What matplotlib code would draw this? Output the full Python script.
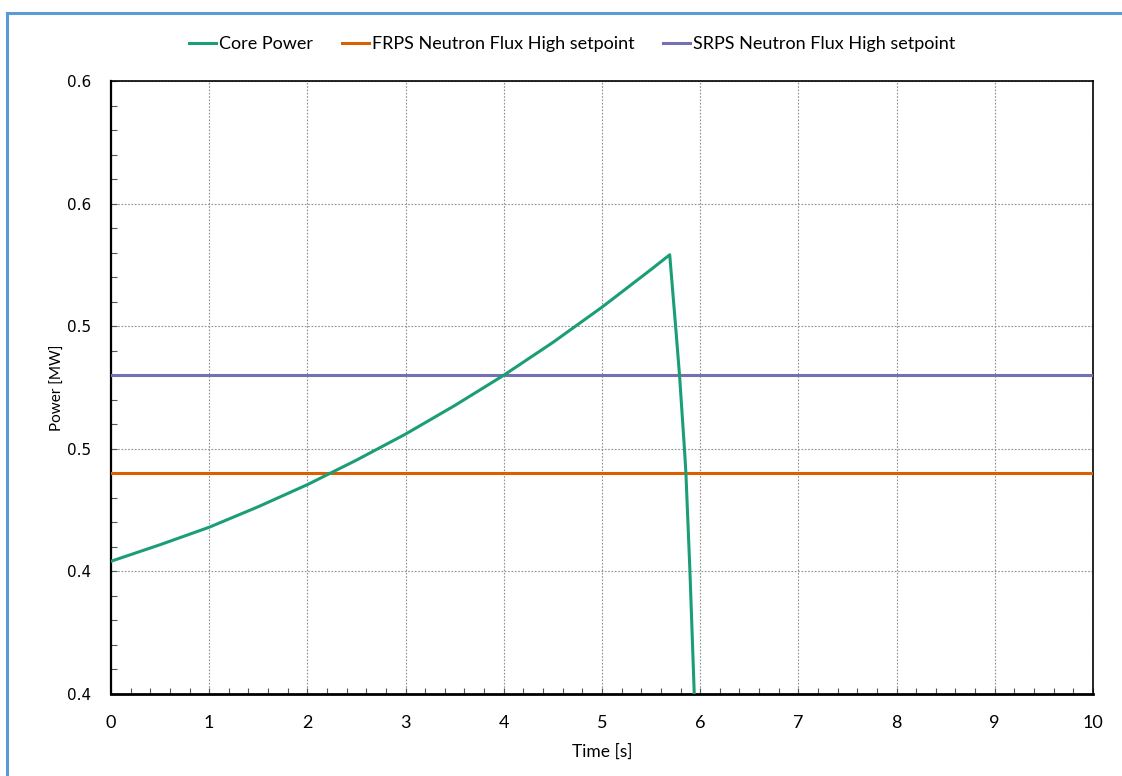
import numpy as np
import matplotlib.pyplot as plt
from matplotlib.ticker import MultipleLocator, FormatStrFormatter
from matplotlib.lines import Line2D

# Core power transient
time_s = [0.0, 0.5, 1.0, 1.5, 2.0, 2.5, 3.0, 3.5, 4.0, 4.5, 5.0, 5.5, 5.69,
          5.75, 5.79, 5.84, 5.855, 5.896, 5.94]
core_power = [0.4433, 0.4487, 0.4544, 0.4611, 0.4683, 0.4763, 0.4848, 0.4941,
              0.5040, 0.5147, 0.5262, 0.5385, 0.5433,
              0.5200, 0.5040, 0.4800, 0.4720, 0.4400, 0.4000]

# trip setpoints
frps_setpoint = 0.472
srps_setpoint = 0.504
setpoint_time = [0, 10]

plt.rcParams['font.family'] = ['Lato', 'DejaVu Sans']

fig = plt.figure(figsize=(11.22, 7.76), dpi=100)
ax = fig.add_axes([0.0989, 0.1057, 0.8752, 0.7899])

ax.plot(time_s, core_power, color='#1b9e77', lw=2.2, label='Core Power', zorder=4)
ax.plot(setpoint_time, [frps_setpoint] * 2, color='#d95f02', lw=2.2,
        label='FRPS Neutron Flux High setpoint', zorder=3)
ax.plot(setpoint_time, [srps_setpoint] * 2, color='#7570b3', lw=2.2,
        label='SRPS Neutron Flux High setpoint', zorder=3)

ax.set_xlim(0, 10)
ax.set_ylim(0.40, 0.60)
ax.xaxis.set_major_locator(MultipleLocator(1))
ax.xaxis.set_minor_locator(MultipleLocator(0.2))
ax.yaxis.set_major_locator(MultipleLocator(0.04))
ax.yaxis.set_minor_locator(MultipleLocator(0.008))
ax.yaxis.set_major_formatter(FormatStrFormatter('%.1f'))

ax.grid(True, which='major', color='#909090', linestyle=(0, (1.5, 1.5)), lw=0.8)
ax.tick_params(which='both', direction='in', length=4, width=0.8, color='#555555',
               top=False, right=False)
ax.tick_params(axis='x', labelsize=13, pad=15)
ax.tick_params(axis='y', labelsize=11, pad=14)
for lab in ax.get_yticklabels():
    lab.set_family('DejaVu Sans')

for s in ax.spines.values():
    s.set_linewidth(1.2)
    s.set_color('black')
ax.spines['bottom'].set_linewidth(2)
ax.spines['left'].set_linewidth(1.6)

ax.set_xlabel('Time [s]', fontsize=12.5, labelpad=9)
ax.set_ylabel('Power [MW]', fontsize=11, labelpad=2)

fig.legend(loc='center', bbox_to_anchor=(0.51, 0.943), ncol=3, frameon=False,
           fontsize=13, handlelength=1.5, handletextpad=0.15, columnspacing=1.6)

# blue frame (left and top edges)
fig.add_artist(Line2D([0.0062, 0.0062], [0, 0.983], transform=fig.transFigure,
                      color='#5b9bd5', lw=2.2))
fig.add_artist(Line2D([0.0062, 1.0], [0.983, 0.983], transform=fig.transFigure,
                      color='#5b9bd5', lw=2.2))

fig.savefig('out.png', dpi=100)
